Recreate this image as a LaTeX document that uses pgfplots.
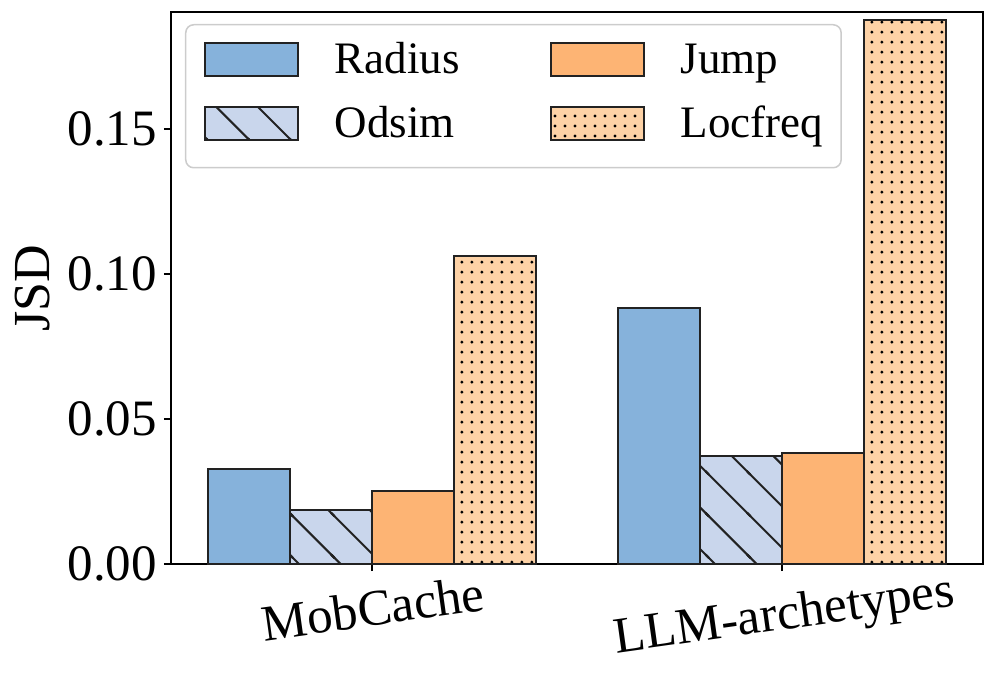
\documentclass[border=0pt]{standalone}
\usepackage{fontspec}
\setmainfont{Liberation Serif}
\usepackage{pgfplots}
\pgfplotsset{compat=1.18}
\usetikzlibrary{patterns.meta}
\definecolor{cRadius}{RGB}{134,178,219}
\definecolor{cOdsim}{RGB}{201,214,236}
\definecolor{cJump}{RGB}{253,180,116}
\definecolor{cLoc}{RGB}{253,210,166}
\definecolor{edge}{RGB}{34,34,34}
\pgfdeclarepattern{
  name=hatchnw,
  type=uncolored,
  bottom left={\pgfpoint{-1bp}{-1bp}},
  top right={\pgfpoint{21.8bp}{21.8bp}},
  tile size={\pgfpoint{20.8bp}{20.8bp}},
  code={
    \pgfsetlinewidth{1bp}
    \pgfpathmoveto{\pgfpoint{-1bp}{21.8bp}}\pgfpathlineto{\pgfpoint{21.8bp}{-1bp}}
    \pgfpathmoveto{\pgfpoint{-1bp}{1bp}}\pgfpathlineto{\pgfpoint{1bp}{-1bp}}
    \pgfpathmoveto{\pgfpoint{19.8bp}{21.8bp}}\pgfpathlineto{\pgfpoint{21.8bp}{19.8bp}}
    \pgfusepath{stroke}
  }
}
\pgfdeclarepattern{
  name=dotgrid,
  type=uncolored,
  bottom left={\pgfpoint{0bp}{0bp}},
  top right={\pgfpoint{5.2bp}{5.2bp}},
  tile size={\pgfpoint{5.2bp}{5.2bp}},
  code={
    \pgfpathcircle{\pgfpoint{2.6bp}{2.6bp}}{0.85bp}
    \pgfusepath{fill}
  }
}
\begin{document}
\begin{tikzpicture}
\begin{axis}[
  at={(0,0)}, anchor=south west,
  scale only axis, width=406bp, height=276bp,
  ybar=0pt, bar width=0.2,
  xmin=-0.49, xmax=1.49, ymin=0, ymax=0.1903,
  xtick={0}, xticklabels={MobCache},
  extra x ticks={1}, extra x tick labels={LLM-archetypes},
  extra x tick style={xticklabel style={yshift=-4.5bp}},
  ytick={0,0.05,0.1,0.15},
  yticklabel style={/pgf/number format/.cd, fixed, fixed zerofill, precision=2, assume math mode=true},
  tick align=outside, major tick length=3.5bp,
  xtick pos=bottom, ytick pos=left,
  tick style={black, line width=0.8bp},
  axis line style={black, line width=0.8bp},
  tick label style={font=\fontsize{25.5bp}{30bp}\selectfont},
  xticklabel style={rotate=8, anchor=center, yshift=-18.5bp, xshift=-2bp},
  ylabel={JSD},
  every axis y label/.style={at={(axis description cs:-0.17,0.5)}, rotate=90, anchor=center, font=\fontsize{26bp}{31bp}\selectfont},
  legend columns=2,
  transpose legend,
  legend image code/.code={\draw[#1, line width=1bp, sharp corners] (0bp,-1bp) rectangle (46.5bp,15.5bp);},
  legend style={at={(0,1)}, anchor=north west, xshift=7bp, yshift=-6bp,
    draw=black!20, line width=0.75bp, rounded corners=4bp, fill=white,
    font=\fontsize{22.5bp}{27bp}\selectfont, inner xsep=9bp, inner ysep=6bp, row sep=4.5bp,
    /tikz/every odd column/.style={column sep=18bp},
    /tikz/every even column/.style={column sep=45bp},
    cells={anchor=base west},
    nodes={inner sep=0pt, text height=18.5bp, text depth=9bp}},
]
\addplot[fill=cRadius, draw=edge, line width=1bp] coordinates {(0,0.0328) (1,0.0882)};
\addplot[preaction={fill=cOdsim}, pattern=hatchnw, pattern color=edge, draw=edge, line width=1bp] coordinates {(0,0.0186) (1,0.0372)};
\addplot[fill=cJump, draw=edge, line width=1bp] coordinates {(0,0.0253) (1,0.0384)};
\addplot[preaction={fill=cLoc}, pattern=dotgrid, pattern color=black, draw=edge, line width=1bp] coordinates {(0,0.1062) (1,0.1876)};
\legend{Radius, Odsim, Jump, Locfreq}
\end{axis}
\pgfresetboundingbox
\path[use as bounding box] (-85.5bp,-58.5bp) rectangle (412.5bp,282bp);
\end{tikzpicture}
\end{document}
